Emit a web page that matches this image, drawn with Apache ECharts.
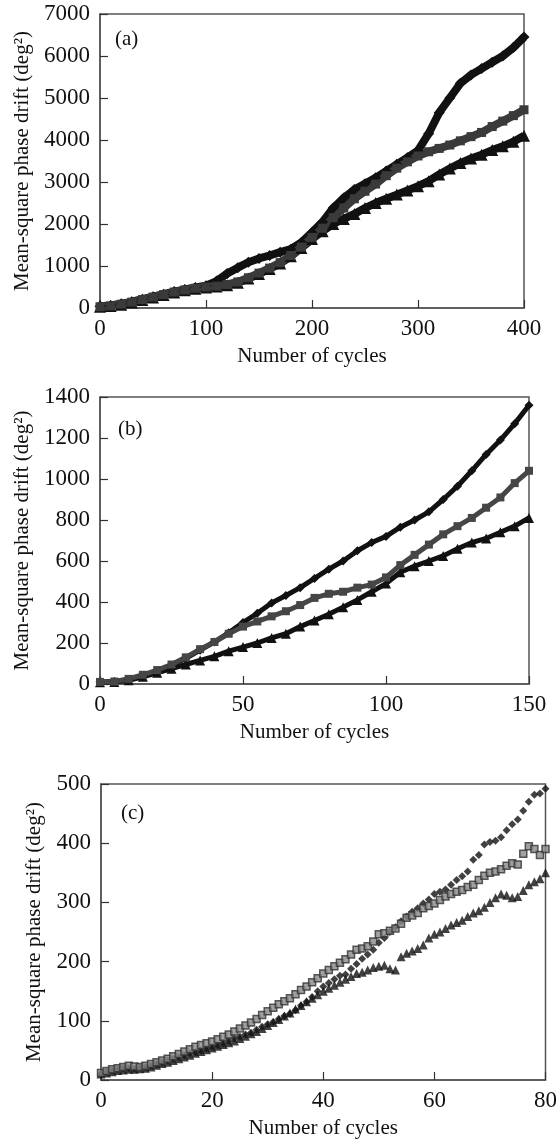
<!DOCTYPE html>
<html>
<head>
<meta charset="utf-8">
<script src="https://cdn.jsdelivr.net/npm/echarts@6/dist/echarts.min.js"></script>
<style>
html, body { margin: 0; padding: 0; background: #fff; }
#chart { width: 560px; height: 1144px; }
</style>
</head>
<body>
<div id="chart"></div>
<script>
// panel (a) — 0..400 cycles
const cyclesA = [0,10,20,30,40,50,60,70,80,90,100,110,120,130,140,150,160,170,180,190,200,
  210,220,230,240,250,260,270,280,290,300,310,320,330,340,350,360,370,380,390,400];
const diamondA = [40,60,100,150,210,270,330,390,440,490,530,640,820,960,1090,1180,1250,1330,1400,1560,1800,
  2050,2380,2620,2820,2960,3100,3260,3420,3580,3750,4150,4650,5000,5350,5550,5700,5850,6000,6200,6450];
const squareA = [30,50,90,140,200,260,320,380,430,470,500,520,560,620,720,830,950,1080,1250,1450,1680,
  1900,2150,2380,2600,2780,2950,3150,3330,3480,3620,3720,3800,3880,3980,4080,4180,4320,4450,4580,4720];
const triangleA = [30,50,80,130,190,250,310,370,420,460,490,510,540,600,700,810,930,1060,1230,1430,1640,
  1830,2000,2120,2240,2380,2500,2600,2700,2800,2900,3020,3180,3320,3450,3560,3650,3760,3850,3960,4100];

// panel (b) — 0..150 cycles
const cyclesB = [0,5,10,15,20,25,30,35,40,45,50,55,60,65,70,75,80,85,90,95,100,
  105,110,115,120,125,130,135,140,145,150];
const diamondB = [10,12,22,40,62,90,125,165,205,250,300,345,395,432,470,515,560,600,650,690,720,
  765,800,840,900,965,1040,1120,1190,1270,1360];
const squareB = [10,12,25,45,68,95,130,170,205,245,280,305,330,355,385,420,440,450,470,485,520,
  580,630,680,730,770,810,860,910,980,1040];
const triangleB = [8,10,18,35,55,75,95,115,135,160,180,200,225,245,280,310,340,375,410,450,490,
  545,575,600,625,660,690,710,740,770,810];

// panel (c) — 0..80 cycles
const cyclesC = [0,1,2,3,4,5,6,7,8,9,10,11,12,13,14,15,16,17,18,19,20,21,22,23,24,25,26,27,28,29,30,
  31,32,33,34,35,36,37,38,39,40,41,42,43,44,45,46,47,48,49,50,51,52,53,54,55,56,57,58,59,60,
  61,62,63,64,65,66,67,68,69,70,71,72,73,74,75,76,77,78,79,80];
const diamondC = [10,14,16,18,20,20,19,21,22,24,27,30,33,36,39,42,45,47,50,53,56,59,62,66,70,73,77,80,85,90,94,
  98,103,108,112,118,126,132,140,150,158,164,170,176,178,188,196,205,212,220,232,240,250,258,268,276,284,290,298,305,314,
  318,322,330,338,344,352,372,380,398,402,404,410,422,432,440,455,470,482,484,492];
const squareC = [12,15,18,20,22,24,23,22,24,27,30,33,36,40,44,48,52,56,59,62,65,69,73,77,82,87,92,97,103,110,116,
  122,128,133,138,145,152,158,165,172,180,186,192,198,204,212,220,222,226,234,246,248,252,256,264,274,278,282,290,294,298,
  304,310,314,318,321,326,330,338,345,350,352,356,362,366,364,382,395,390,380,390];
const triangleC = [10,12,14,16,17,18,18,19,20,22,25,28,30,33,36,39,42,45,48,51,54,57,60,63,66,70,74,78,82,87,92,
  97,102,108,113,120,126,132,138,144,150,155,160,165,170,175,180,182,186,190,192,194,188,186,208,214,218,222,228,240,246,
  250,256,262,266,270,276,282,286,292,300,308,314,312,308,310,320,330,335,340,350];

const yTitle = 'Mean-square phase drift (deg²)';
const xTitle = 'Number of cycles';
const serif = 'Liberation Serif';

function pairs(xs, ys) {
  return xs.map((x, i) => [x, ys[i]]);
}

var chartDom = document.getElementById('chart');
var myChart = echarts.init(chartDom, null, { renderer: 'canvas' });

const grids = [
  { left: 100, top: 14, width: 424, height: 294 },
  { left: 100, top: 397, width: 429, height: 287 },
  { left: 101, top: 784, width: 450, height: 296 }
];

function xAx(i, max, step) {
  return {
    gridIndex: i, type: 'value', min: 0, max: max, interval: step,
    name: xTitle, nameLocation: 'middle', nameGap: 38,
    nameTextStyle: { fontFamily: serif, fontSize: 21, color: '#111' },
    axisLine: { show: true, lineStyle: { color: '#555', width: 1.5 } },
    axisTick: { inside: true, length: 8, lineStyle: { color: '#333', width: 1.2 } },
    axisLabel: { fontFamily: serif, fontSize: 23, color: '#111', margin: 9, formatter: v => String(v) },
    splitLine: { show: false }
  };
}
function yAx(i, max, step, gap) {
  return {
    gridIndex: i, type: 'value', min: 0, max: max, interval: step,
    name: yTitle, nameLocation: 'middle', nameGap: gap,
    nameTextStyle: { fontFamily: serif, fontSize: 21, color: '#111' },
    axisLine: { show: true, lineStyle: { color: '#555', width: 1.5 } },
    axisTick: { inside: true, length: 8, lineStyle: { color: '#333', width: 1.2 } },
    axisLabel: { fontFamily: serif, fontSize: 23, color: '#111', margin: 10, formatter: v => String(v) },
    splitLine: { show: false }
  };
}

function band(i, data, sym, color, lw, ss) {
  return {
    type: 'line', xAxisIndex: i, yAxisIndex: i, data: data,
    symbol: sym, symbolSize: ss, showSymbol: true,
    lineStyle: { color: color, width: lw },
    itemStyle: { color: color },
    animation: false
  };
}
function dots(i, data, sym, color, ss, border) {
  return {
    type: 'scatter', xAxisIndex: i, yAxisIndex: i, data: data,
    symbol: sym, symbolSize: ss,
    itemStyle: border ? { color: '#8a8a8a', borderColor: color, borderWidth: 1.5 } : { color: color },
    animation: false
  };
}

option = {
  backgroundColor: '#fff',
  title: [
    { text: '(a)', left: 110, top: 24, textStyle: { fontFamily: serif, fontSize: 21, fontWeight: 'normal', color: '#111' } },
    { text: '(b)', left: 113, top: 414, textStyle: { fontFamily: serif, fontSize: 21, fontWeight: 'normal', color: '#111' } },
    { text: '(c)', left: 116, top: 798, textStyle: { fontFamily: serif, fontSize: 21, fontWeight: 'normal', color: '#111' } }
  ],
  grid: grids.map(g => Object.assign({ show: true, borderColor: '#555', borderWidth: 1.5 }, g)),
  xAxis: [xAx(0, 400, 100), xAx(1, 150, 50), xAx(2, 80, 20)],
  yAxis: [yAx(0, 7000, 1000, 66), yAx(1, 1400, 200, 66), yAx(2, 500, 100, 56)],
  series: [
    band(0, pairs(cyclesA, diamondA), 'diamond', '#111', 8, 11),
    band(0, pairs(cyclesA, triangleA), 'triangle', '#111', 8, 12),
    band(0, pairs(cyclesA, squareA), 'rect', '#3a3a3a', 8, 9),

    band(1, pairs(cyclesB, diamondB), 'diamond', '#111', 5, 9),
    band(1, pairs(cyclesB, triangleB), 'triangle', '#111', 5, 10),
    band(1, pairs(cyclesB, squareB), 'rect', '#464646', 5, 8),

    dots(2, pairs(cyclesC, diamondC), 'diamond', '#111', 8, false),
    dots(2, pairs(cyclesC, triangleC), 'triangle', '#111', 9, false),
    dots(2, pairs(cyclesC, squareC), 'rect', '#333', 7, true)
  ]
};

option && myChart.setOption(option);
</script>
</body>
</html>
